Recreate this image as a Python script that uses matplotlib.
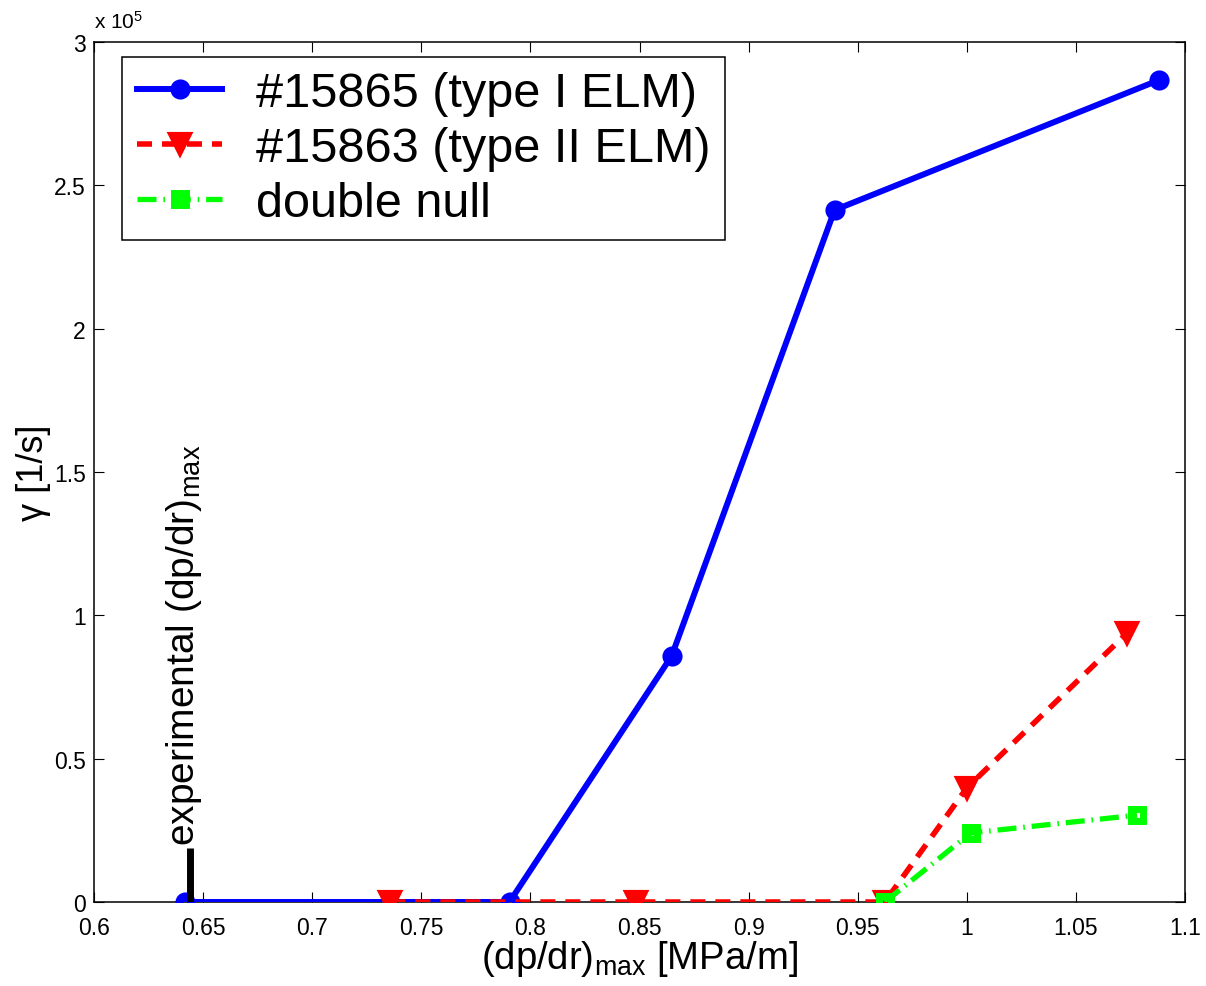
import matplotlib
matplotlib.use("Agg")
import matplotlib.pyplot as plt
from matplotlib.ticker import FuncFormatter

# growth rate vs max pressure gradient
x_type1 = [0.6417, 0.7904, 0.8647, 0.9394, 1.0880]
g_type1 = [0.0, 0.0, 0.858e5, 2.414e5, 2.867e5]

x_type2 = [0.7358, 0.8486, 0.9624, 1.0000, 1.0734]
g_type2 = [0.0, 0.0, 0.0, 0.398e5, 0.938e5]

x_dn = [0.9624, 1.0018, 1.0780]
g_dn = [0.0, 0.241e5, 0.303e5]

x_exp = 0.6440
exp_bar = [0.0, 0.19e5]

x_ticks = [0.6, 0.65, 0.7, 0.75, 0.8, 0.85, 0.9, 0.95, 1.0, 1.05, 1.1]
y_ticks = [0, 0.5e5, 1e5, 1.5e5, 2e5, 2.5e5, 3e5]

plt.rcParams['font.family'] = ['Liberation Sans', 'DejaVu Sans']
plt.rcParams['mathtext.fontset'] = 'custom'
plt.rcParams['mathtext.rm'] = 'Liberation Sans'
plt.rcParams['mathtext.it'] = 'Liberation Sans:italic'

fig = plt.figure(figsize=(12.06, 9.87), dpi=100)
ax = fig.add_axes([0.078, 0.0851, 0.9046, 0.8713])

ax.plot(x_type1, g_type1, color='blue', lw=4.3, marker='o', ms=8.5,
        mfc='none', mew=6, label='#15865 (type I ELM)', zorder=3)
ax.plot(x_type2, g_type2, color='red', lw=4.0, dashes=(2.7, 1.8), marker='v',
        ms=15, mfc='red', mew=3, label='#15863 (type II ELM)', zorder=4)
ax.plot(x_dn, g_dn, color=(0, 1, 0), lw=3.8, dashes=(3.6, 1.3, 0.3, 1.3),
        marker='s', ms=8, mfc='none', mew=5, label='double null', zorder=5)

# experimental value marker
ax.plot([x_exp, x_exp], exp_bar, color='black', lw=5, solid_capstyle='butt', zorder=6)
ax.text(0.6410, 0.2e5, r'experimental (dp/dr)$_{\rm max}$', rotation=90,
        ha='center', va='bottom', fontsize=28)

ax.set_xlim(0.6, 1.1)
ax.set_ylim(0, 3e5)
ax.set_xticks(x_ticks)
ax.set_yticks(y_ticks)
ax.xaxis.set_major_formatter(FuncFormatter(lambda v, p: f"{v:g}"))
ax.yaxis.set_major_formatter(FuncFormatter(lambda v, p: f"{v / 1e5:g}"))
ax.tick_params(direction='in', length=7, width=0.8, labelsize=16.5,
               top=True, right=True, pad=6)
ax.tick_params(axis='x', pad=10)
for s in ax.spines.values():
    s.set_linewidth(1.1)

ax.text(0.0, 1.012, r'x 10$^5$', transform=ax.transAxes, fontsize=15,
        ha='left', va='bottom')

ax.set_xlabel(r'(dp/dr)$_{\rm max}$ [MPa/m]', fontsize=27.5, labelpad=-1)
ax.set_ylabel('γ [1/s]', fontsize=26, labelpad=2)

leg = ax.legend(loc='upper left', bbox_to_anchor=(0.026, 0.983), borderaxespad=0,
                fontsize=35, handlelength=1.75, handletextpad=0.7,
                labelspacing=0.2, fancybox=False, framealpha=1,
                edgecolor='black', borderpad=0.3)
leg.get_frame().set_linewidth(1.1)

fig.savefig('out.png', dpi=100)
